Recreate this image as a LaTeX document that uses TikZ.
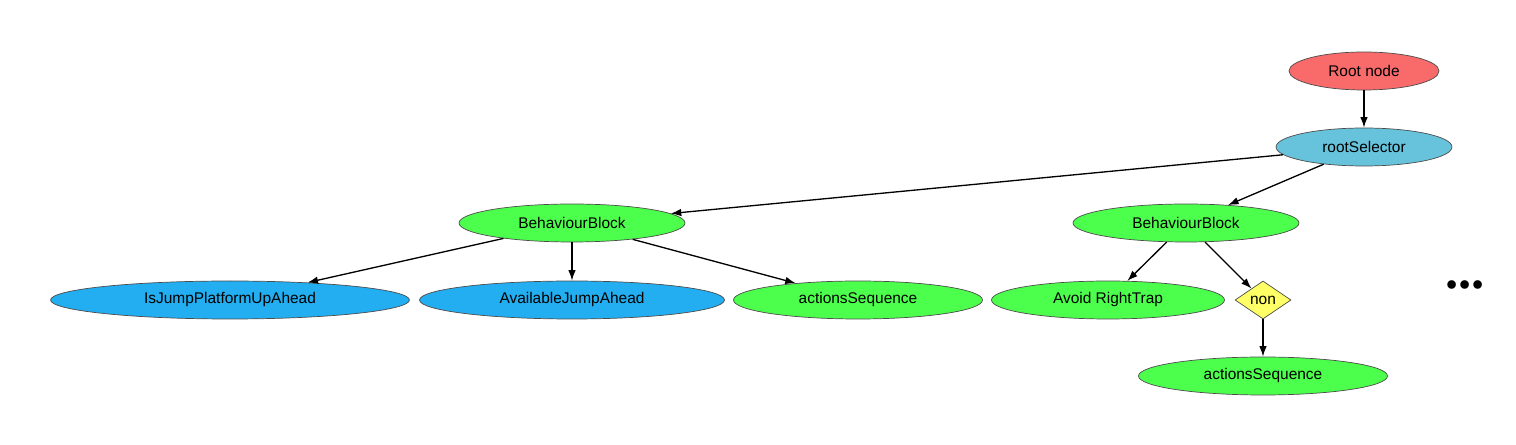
\documentclass[tikz,border=0pt]{standalone}
\usepackage{fontspec}
\setmainfont{Liberation Sans}
\newfontfamily\dotfont{Liberation Serif}
\usepackage{xcolor}
\usepackage{tikz}
\usetikzlibrary{arrows.meta,positioning,shapes.geometric}

\definecolor{rootred}{HTML}{F96A6A}
\definecolor{selblue}{HTML}{66C3DB}
\definecolor{blockgreen}{HTML}{4DFF4D}
\definecolor{condblue}{HTML}{22AEF0}
\definecolor{decoyellow}{HTML}{FFFF66}

\begin{document}
\begin{tikzpicture}[
  x=0.02cm,y=-0.02cm,
  bt/.style={draw=black!70,line width=0.4pt,ellipse,inner sep=0pt,
             minimum height=0.76cm,font=\fontsize{8.8}{10}\selectfont},
  rootn/.style={bt,fill=rootred,minimum width=3cm},
  selector/.style={bt,fill=selblue,minimum width=3.52cm},
  block/.style={bt,fill=blockgreen},
  cond/.style={bt,fill=condblue},
  deco/.style={bt,diamond,fill=decoyellow,minimum width=1.12cm,minimum height=0.76cm},
  arr/.style={-{Latex[length=2.1mm,width=1.5mm]},line width=0.75pt}
]
\useasboundingbox (0,0) rectangle (1516,445);
\node[rootn] (root) at (1364,71) {Root node};
\node[selector] (sel) at (1364,147) {rootSelector};
\node[block,minimum width=4.52cm] (bbl) at (572,223) {BehaviourBlock};
\node[block,minimum width=4.52cm] (bbr) at (1186,223) {BehaviourBlock};
\node[cond,minimum width=7.18cm] (jumpup) at (230,300) {IsJumpPlatformUpAhead};
\node[cond,minimum width=6.1cm] (jumpav) at (572,300) {AvailableJumpAhead};
\node[block,minimum width=4.98cm] (seql) at (858,300) {actionsSequence};
\node[block,minimum width=4.66cm] (trap) at (1108,300) {Avoid RightTrap};
\node[deco] (non) at (1263,300) {non};
\node[block,minimum width=4.98cm] (seqr) at (1263,376) {actionsSequence};
\node[font=\dotfont\fontsize{30}{30}\bfseries\selectfont] (more) at (1465,285) {...};

\draw[arr] (root) -- (sel);
\draw[arr] (sel) -- (bbl);
\draw[arr] (sel) -- (bbr);
\draw[arr] (bbl) -- (jumpup);
\draw[arr] (bbl) -- (jumpav);
\draw[arr] (bbl) -- (seql);
\draw[arr] (bbr) -- (trap);
\draw[arr] (bbr) -- (non);
\draw[arr] (non) -- (seqr);
\end{tikzpicture}
\end{document}
